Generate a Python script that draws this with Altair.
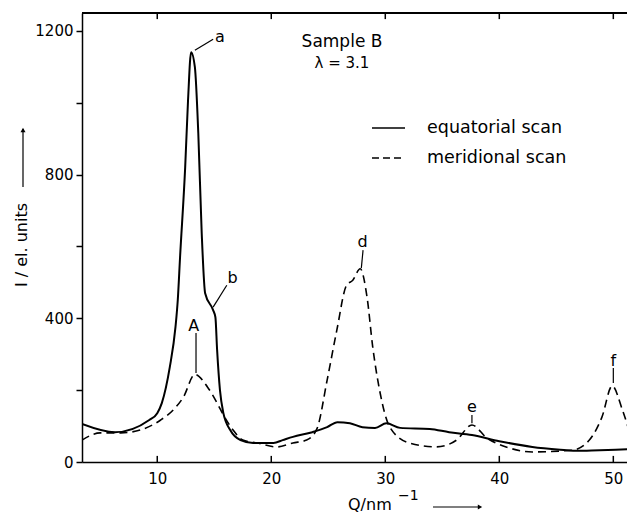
import altair as alt
import pandas as pd

# ---- data ----
eq_q = [3.4, 6.3, 9.3, 10.0, 10.4, 11.1, 11.6, 11.8, 12.0, 12.45, 12.7, 12.97, 13.3, 13.6,
        13.9, 14.2, 14.9, 15.1, 15.25, 15.5, 15.8, 16.4, 17.3, 18.4, 20.2, 21.0, 21.9,
        23.6, 24.9, 25.8, 26.9, 28.0, 29.1, 30.1, 31.3, 33.9, 35.6, 37.6, 40.0, 42.9,
        45.9, 46.7, 48.8, 51.9]
eq_i = [106, 83, 117, 136, 164, 264, 376, 451, 570, 821, 1007, 1141, 1099, 915,
        637, 470, 423, 403, 312, 200, 136, 89, 61, 53, 53, 61, 70,
        83, 97, 111, 108, 97, 95, 108, 95, 92, 83, 75, 58, 42,
        33, 31, 33, 36]

mer_q = [3.4, 5.0, 6.8, 8.5, 10.3, 11.4, 12.3, 13.3, 14.4, 15.25, 15.8, 16.65, 17.5,
         18.75, 20.5, 21.9, 23.1, 24.0, 24.9, 25.75, 26.6, 27.15, 27.8, 28.4, 28.9,
         29.5, 30.4, 32.1, 34.5, 36.25, 37.6, 38.9, 40.6, 42.9, 46.4, 47.9, 49.0,
         49.9, 50.8, 51.6, 51.9]
mer_i = [61, 81, 81, 89, 117, 145, 181, 244, 209, 164, 131, 89, 61,
         53, 42, 53, 61, 92, 228, 367, 492, 506, 538, 459, 320,
         200, 97, 53, 42, 61, 103, 67, 42, 28, 33, 61, 125,
         212, 145, 70, 50]

x_ticks = [10, 20, 30, 40, 50]
y_ticks = [0, 200, 400, 600, 800, 1000, 1200]

peak_labels = ["a", "b", "A", "d", "e", "f"]
label_q = [15.5, 16.6, 13.2, 28.0, 37.6, 50.0]
label_i = [1183, 512, 378, 612, 152, 282]
lead_q1 = [13.3, 14.9, 13.4, 27.9, 37.6, 50.0]
lead_i1 = [1146, 431, 248, 540, 108, 220]
lead_q2 = [14.9, 16.1, 13.4, 28.05, 37.6, 50.0]
lead_i2 = [1177, 492, 359, 590, 131, 262]

QMIN, QMAX = 3.4, 51.2
IMAX = 1250
TICK = 17  # inward tick length in data units
W, H = 545, 449
FONT = "DejaVu Sans"

eq = pd.DataFrame({"Q": eq_q, "I": eq_i})
mer = pd.DataFrame({"Q": mer_q, "I": mer_i})
xs = alt.Scale(domain=[QMIN, QMAX], nice=False, zero=False)
ys = alt.Scale(domain=[0, IMAX], nice=False)

solid = alt.Chart(eq).mark_line(interpolate="monotone", color="black", strokeWidth=2, clip=True).encode(
    x=alt.X("Q:Q", scale=xs, axis=alt.Axis(values=x_ticks, ticks=False, labelPadding=9, title=None,
                                           grid=False, domainColor="black", domainWidth=1.5,
                                           labelFont=FONT, labelFontSize=15, labelColor="black")),
    y=alt.Y("I:Q", scale=ys, axis=alt.Axis(values=y_ticks, format="d", tickSize=6, tickColor="black",
                                           tickWidth=1.5, domainColor="black", domainWidth=1.5,
                                           labelExpr="datum.value % 400 == 0 ? datum.label : ''",
                                           labelPadding=3, title=None, grid=False,
                                           labelFont=FONT, labelFontSize=15, labelColor="black")),
)
dashed = alt.Chart(mer).mark_line(interpolate="monotone", color="black", strokeWidth=1.6,
                                  strokeDash=[8, 5], clip=True).encode(
    x=alt.X("Q:Q", scale=xs), y=alt.Y("I:Q", scale=ys))

tk = pd.DataFrame({"Q": x_ticks})
bot_ticks = alt.Chart(tk).mark_rule(color="black", strokeWidth=1.5).encode(
    x=alt.X("Q:Q", scale=xs), y=alt.datum(0), y2=alt.datum(TICK))
top_ticks = alt.Chart(tk).mark_rule(color="black", strokeWidth=1.5).encode(
    x=alt.X("Q:Q", scale=xs), y=alt.datum(IMAX), y2=alt.datum(IMAX - TICK))
top_line = alt.Chart(tk).mark_rule(color="black", strokeWidth=1.5).encode(
    x=alt.value(0), x2=alt.value(W), y=alt.value(0))

lab = pd.DataFrame({"t": peak_labels, "q": label_q, "i": label_i,
                    "q1": lead_q1, "i1": lead_i1, "q2": lead_q2, "i2": lead_i2})
letters = alt.Chart(lab).mark_text(font=FONT, fontSize=16, color="black", baseline="middle").encode(
    x=alt.X("q:Q", scale=xs), y=alt.Y("i:Q", scale=ys), text="t:N")
leaders = alt.Chart(lab).mark_rule(color="black", strokeWidth=1.2).encode(
    x=alt.X("q1:Q", scale=xs), y=alt.Y("i1:Q", scale=ys), x2="q2:Q", y2="i2:Q")

one = pd.DataFrame({"k": [0]})
def txt(s, x, y, size=16, align="center", angle=0, baseline="middle"):
    kw = dict(font=FONT, fontSize=size, color="black", align=align, baseline=baseline, text=s)
    if angle:
        kw["angle"] = angle
    return alt.Chart(one).mark_text(**kw).encode(x=alt.value(x), y=alt.value(y))

sample = txt("Sample B", 260, 29, 17)
lam = txt("λ = 3.1", 260, 50, 15)
leg1_line = alt.Chart(one).mark_rule(color="black", strokeWidth=1.5).encode(
    x=alt.value(290), x2=alt.value(323), y=alt.value(115))
leg2_line = alt.Chart(one).mark_rule(color="black", strokeWidth=1.5, strokeDash=[7, 4]).encode(
    x=alt.value(290), x2=alt.value(323), y=alt.value(145))
leg1 = txt("equatorial  scan", 345, 115, 17.5, align="left")
leg2 = txt("meridional  scan", 345, 145, 17.5, align="left")

ytitle = txt("I / el. units", -60, 232, 16, angle=270)
yarrow = alt.Chart(one).mark_rule(color="black", strokeWidth=1.2).encode(
    x=alt.value(-59), y=alt.value(116), y2=alt.value(174))
yhead = alt.Chart(one).mark_point(shape="triangle-up", filled=True, color="black", size=25, opacity=1).encode(
    x=alt.value(-59), y=alt.value(117))

xtitle = txt("Q/nm", 266, 497, 16, align="left", baseline="alphabetic")
xsup = txt("−1", 316, 487, 14, align="left", baseline="alphabetic")
xarrow = alt.Chart(one).mark_rule(color="black", strokeWidth=1.2).encode(
    x=alt.value(351), x2=alt.value(398), y=alt.value(494))
xhead = alt.Chart(one).mark_point(shape="triangle-right", filled=True, color="black", size=25, opacity=1).encode(
    x=alt.value(398), y=alt.value(494))

chart = alt.layer(
    solid, dashed, bot_ticks, top_ticks, top_line, leaders, letters,
    sample, lam, leg1_line, leg2_line, leg1, leg2,
    ytitle, yarrow, yhead, xtitle, xsup, xarrow, xhead,
).properties(
    width=W, height=H,
    autosize=alt.AutoSizeParams(type="none"),
    padding={"left": 74, "top": 5, "right": 0, "bottom": 54},
).configure_view(stroke=None)

chart.save("out.html", embed_options={"renderer": "svg", "actions": False})
